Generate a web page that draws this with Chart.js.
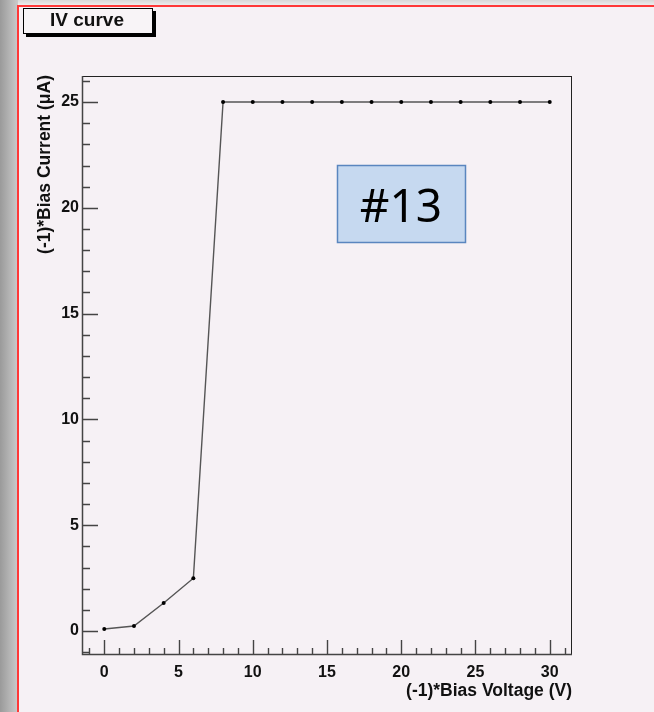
<!DOCTYPE html>
<html>
<head>
<meta charset="utf-8">
<script src="https://cdn.jsdelivr.net/npm/chart.js@4/dist/chart.umd.min.js"></script>
<style>
  html, body { margin: 0; padding: 0; background: #f6f1f5; }
  #wrap { width: 654px; height: 712px; position: relative; }
</style>
</head>
<body>
<div id="wrap"><canvas id="iv" width="654" height="712"></canvas></div>
<script>
"use strict";

// data
var voltage = [0, 2, 4, 6, 8, 10, 12, 14, 16, 18, 20, 22, 24, 26, 28, 30];
var current = [0.1, 0.24, 1.33, 2.5, 25, 25, 25, 25, 25, 25, 25, 25, 25, 25, 25, 25];
var xTicks = [0, 5, 10, 15, 20, 25, 30];
var yTicks = [0, 5, 10, 15, 20, 25];
var xRange = [-1.5, 31.5];
var yRange = [-1.13, 26.23];
var chartTitle = "IV curve";
var xTitle = "(-1)*Bias Voltage (V)";
var yTitle = "(-1)*Bias Current (\u03bcA)";
var boxLabel = "#13";

var rootFont = "'Liberation Sans', Arial, sans-serif";

var pts = [];
for (var i = 0; i < voltage.length; i++) {
    pts.push({x: voltage[i], y: current[i]});
}

var decorPlugin = {
    id: 'decor',
    beforeDraw: function (chart) {
        var ctx = chart.ctx;
        ctx.save();
        // background
        ctx.fillStyle = '#f6f1f5';
        ctx.fillRect(0, 0, 654, 712);
        // top strip
        var g = ctx.createLinearGradient(0, 0, 0, 6);
        g.addColorStop(0, '#d8d8d8');
        g.addColorStop(1, '#f0f0f0');
        ctx.fillStyle = g;
        ctx.fillRect(0, 0, 654, 6);
        // left strip
        var g2 = ctx.createLinearGradient(0, 0, 18, 0);
        g2.addColorStop(0, '#9a9a9a');
        g2.addColorStop(1, '#cbcbcb');
        ctx.fillStyle = g2;
        ctx.fillRect(0, 0, 18, 712);
        // red border
        ctx.strokeStyle = '#ff3838';
        ctx.lineWidth = 2;
        ctx.beginPath();
        ctx.moveTo(18, 712);
        ctx.lineTo(18, 6);
        ctx.lineTo(654, 6);
        ctx.stroke();

        // title box with shadow
        ctx.fillStyle = '#000';
        ctx.fillRect(26, 11, 130, 26);
        ctx.fillStyle = '#f8f4f7';
        ctx.fillRect(23, 8, 130, 26);
        ctx.strokeStyle = '#000';
        ctx.lineWidth = 1;
        ctx.strokeRect(23.5, 8.5, 129, 25);
        ctx.fillStyle = '#111';
        ctx.font = 'bold 19px ' + rootFont;
        ctx.textAlign = 'center';
        ctx.textBaseline = 'middle';
        ctx.fillText(chartTitle, 87, 21);

        // axis titles
        ctx.font = 'bold 17.5px ' + rootFont;
        ctx.textAlign = 'right';
        ctx.fillText(xTitle, 572, 691);
        ctx.save();
        ctx.translate(45, 75);
        ctx.rotate(-Math.PI / 2);
        ctx.textAlign = 'right';
        ctx.fillText(yTitle, 0, 0);
        ctx.restore();
        ctx.restore();
    },
    afterDatasetsDraw: function (chart) {
        var ctx = chart.ctx;
        var a = chart.chartArea;
        var xs = chart.scales.x, ys = chart.scales.y;
        ctx.save();
        // frame
        ctx.strokeStyle = '#222';
        ctx.lineWidth = 1;
        ctx.strokeRect(a.left + 0.5, a.top + 0.5, a.right - a.left - 1, a.bottom - a.top - 1);
        ctx.strokeStyle = '#444';
        ctx.lineWidth = 1.5;
        ctx.beginPath();
        ctx.moveTo(a.left + 0.5, a.top);
        ctx.lineTo(a.left + 0.5, a.bottom - 0.5);
        ctx.lineTo(a.right, a.bottom - 0.5);
        ctx.stroke();
        // ROOT style ticks, inside the frame
        ctx.lineWidth = 1.4;
        ctx.strokeStyle = '#444';
        ctx.beginPath();
        for (var v = -1; v <= 31; v++) {
            var px = Math.round(xs.getPixelForValue(v)) + 0.5;
            var len = (v % 5 === 0) ? 15 : 7;
            ctx.moveTo(px, a.bottom);
            ctx.lineTo(px, a.bottom - len);
        }
        for (var w = -1; w <= 26; w++) {
            var py = Math.round(ys.getPixelForValue(w)) + 0.5;
            var l2 = (w % 5 === 0) ? 16 : 8;
            ctx.moveTo(a.left, py);
            ctx.lineTo(a.left + l2, py);
        }
        ctx.stroke();

        // label box
        ctx.fillStyle = '#c6d9f0';
        ctx.fillRect(337, 165, 129, 78);
        ctx.strokeStyle = '#5a86bf';
        ctx.lineWidth = 1.5;
        ctx.strokeRect(337.5, 165.5, 128, 77);
        ctx.fillStyle = '#000';
        ctx.font = "46px 'Noto Sans', sans-serif";
        ctx.textAlign = 'center';
        ctx.textBaseline = 'alphabetic';
        ctx.fillText(boxLabel, 401, 222);
        ctx.restore();
    }
};

new Chart(document.getElementById("iv").getContext("2d"), {
    type: 'line',
    data: {
        datasets: [{
            label: chartTitle,
            data: pts,
            borderColor: '#555',
            borderWidth: 1.4,
            backgroundColor: '#000',
            pointRadius: 2,
            pointBorderWidth: 0,
            pointBackgroundColor: '#000',
            tension: 0,
            fill: false
        }]
    },
    options: {
        responsive: false,
        animation: false,
        events: [],
        layout: { padding: { left: 0, top: 76, right: 82, bottom: 0 } },
        plugins: {
            legend: { display: false },
            tooltip: { enabled: false },
            title: { display: false }
        },
        scales: {
            x: {
                type: 'linear',
                min: xRange[0],
                max: xRange[1],
                afterBuildTicks: function (scale) {
                    scale.ticks = xTicks.map(function (v) { return {value: v}; });
                },
                afterFit: function (scale) { scale.height = 57; },
                grid: { display: false, drawTicks: false },
                border: { display: false },
                ticks: {
                    padding: 8,
                    maxRotation: 0,
                    color: '#111',
                    font: { family: rootFont, size: 16, weight: 'bold' }
                }
            },
            y: {
                type: 'linear',
                min: yRange[0],
                max: yRange[1],
                afterBuildTicks: function (scale) {
                    scale.ticks = yTicks.map(function (v) { return {value: v}; });
                },
                afterFit: function (scale) { scale.width = 82; },
                grid: { display: false, drawTicks: false },
                border: { display: false },
                ticks: {
                    padding: 3,
                    color: '#111',
                    font: { family: rootFont, size: 16, weight: 'bold' }
                }
            }
        }
    },
    plugins: [decorPlugin]
});
</script>
</body>
</html>
